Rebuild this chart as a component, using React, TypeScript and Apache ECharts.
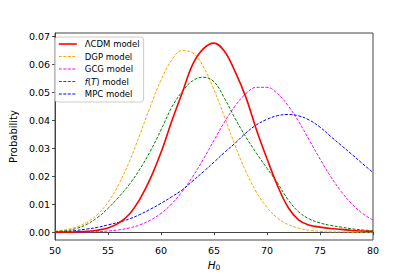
import React, { useEffect, useRef } from "react";
import * as echarts from "echarts";

const xValues = [50, 51, 52, 53, 54, 55, 56, 57, 58, 59, 60, 61, 62, 63, 64, 65, 66, 67, 68, 69, 70, 71, 72, 73, 74, 75, 76, 77, 78, 79, 80];

const lcdmValues = [0.0000, 0.0000, 0.0001, 0.0003, 0.0007, 0.0015, 0.0032, 0.0064, 0.0118, 0.0192, 0.0285, 0.0395, 0.0498, 0.0600, 0.0655, 0.0675, 0.0645, 0.0572, 0.0482, 0.0366, 0.0262, 0.0165, 0.0088, 0.0043, 0.0025, 0.0018, 0.0013, 0.0010, 0.0006, 0.0004, 0.0003];
const dgpValues = [0.0004, 0.0009, 0.0018, 0.0035, 0.0063, 0.0107, 0.0170, 0.0251, 0.0348, 0.0450, 0.0543, 0.0614, 0.0648, 0.0640, 0.0590, 0.0508, 0.0410, 0.0308, 0.0217, 0.0143, 0.0088, 0.0050, 0.0027, 0.0014, 0.0007, 0.0003, 0.0001, 0.0001, 0.0000, 0.0000, 0.0000];
const gcgValues = [0.0000, 0.0000, 0.0001, 0.0001, 0.0002, 0.0004, 0.0008, 0.0015, 0.0026, 0.0043, 0.0067, 0.0101, 0.0145, 0.0199, 0.0261, 0.0328, 0.0394, 0.0451, 0.0494, 0.0517, 0.0517, 0.0494, 0.0451, 0.0394, 0.0328, 0.0261, 0.0199, 0.0145, 0.0101, 0.0067, 0.0043];
const ftValues = [0.0002, 0.0005, 0.0013, 0.0028, 0.0052, 0.0085, 0.0125, 0.0170, 0.0225, 0.0290, 0.0365, 0.0445, 0.0502, 0.0541, 0.0553, 0.0537, 0.0477, 0.0405, 0.0340, 0.0282, 0.0228, 0.0175, 0.0115, 0.0072, 0.0047, 0.0033, 0.0024, 0.0018, 0.0012, 0.0008, 0.0005];
const mpcValues = [0.0001, 0.0002, 0.0006, 0.0011, 0.0017, 0.0026, 0.0035, 0.0047, 0.0063, 0.0082, 0.0103, 0.0126, 0.0151, 0.0183, 0.0216, 0.0250, 0.0285, 0.0318, 0.0354, 0.0383, 0.0403, 0.0416, 0.0420, 0.0415, 0.0400, 0.0375, 0.0342, 0.0310, 0.0278, 0.0245, 0.0213];

const seriesNames = ["ΛCDM model", "DGP model", "GCG model", "f(T) model", "MPC model"];
const yTickValues = [0, 0.01, 0.02, 0.03, 0.04, 0.05, 0.06, 0.07];

const FONT = "DejaVu Sans";

export default function App() {
  const ref = useRef<HTMLDivElement>(null);
  useEffect(() => {
    const chart = echarts.init(ref.current!, null, { renderer: "svg" });
    const pair = (ys: number[]) => xValues.map((x, i) => [x, ys[i]]);
    const mk = (name: string, ys: number[], color: string, width: number, dashed: boolean) => ({
      name,
      type: "line",
      data: pair(ys),
      smooth: 0.4,
      symbol: "none",
      showSymbol: false,
      lineStyle: { color, width, type: dashed ? [3, 1.5] : "solid" },
      itemStyle: { color },
      z: dashed ? 2 : 3,
    });
    const axisColor = "#444";
    chart.setOption({
      animation: false,
      textStyle: { fontFamily: FONT, color: "#000" },
      grid: { left: 51, right: 42, top: 33, bottom: 37, show: true, borderColor: axisColor, borderWidth: 1, backgroundColor: "transparent" },
      legend: {
        orient: "vertical",
        left: 55,
        top: 37,
        padding: [2, 4, 3, 3],
        itemWidth: 18,
        itemHeight: 10,
        itemGap: 2.5,
        backgroundColor: "rgba(255,255,255,0.8)",
        borderColor: "#cccccc",
        borderWidth: 1,
        borderRadius: 3,
        itemStyle: { opacity: 0 },
        lineStyle: { width: "inherit", type: "inherit", opacity: 1 },
        data: seriesNames,
        formatter: (n: string) => (n === "f(T) model" ? "{i|f}({i|T}) model" : n),
        textStyle: {
          fontFamily: FONT,
          fontSize: 8.5,
          lineHeight: 10,
          color: "#000",
          padding: [0, 0, 0, 3],
          rich: { i: { fontFamily: FONT, fontSize: 8.5, fontStyle: "italic", color: "#000" } },
        },
      },
      xAxis: {
        type: "value",
        min: 50,
        max: 80,
        interval: 5,
        name: "{i|H}{s|0}",
        nameLocation: "middle",
        nameGap: 14,
        nameTextStyle: {
          rich: {
            i: { fontFamily: FONT, fontSize: 10.5, fontStyle: "italic", color: "#000", lineHeight: 13 },
            s: { fontFamily: FONT, fontSize: 7.5, color: "#000", verticalAlign: "bottom", lineHeight: 7 },
          },
        },
        axisLine: { lineStyle: { color: axisColor, width: 1 } },
        axisTick: { show: true, inside: false, length: 3, lineStyle: { color: axisColor } },
        axisLabel: { fontFamily: FONT, fontSize: 9.5, color: "#000", margin: 5 },
        splitLine: { show: false },
      },
      yAxis: {
        type: "value",
        min: -0.0028,
        max: 0.0711,
        name: "Probability",
        nameLocation: "middle",
        nameGap: 28,
        nameTextStyle: { fontFamily: FONT, fontSize: 10, color: "#000" },
        axisLine: { show: true, lineStyle: { color: axisColor, width: 1 } },
        axisTick: { show: true, inside: false, length: 3, lineStyle: { color: axisColor }, customValues: yTickValues },
        axisLabel: {
          fontFamily: FONT,
          fontSize: 9.5,
          color: "#000",
          margin: 5,
          customValues: yTickValues,
          formatter: (v: number) => v.toFixed(2),
        },
        splitLine: { show: false },
      },
      series: [
        mk(seriesNames[0], lcdmValues, "#ff0000", 1.6, false),
        mk(seriesNames[1], dgpValues, "#ffa500", 1, true),
        mk(seriesNames[2], gcgValues, "#ff00ff", 1, true),
        mk(seriesNames[3], ftValues, "#008000", 1, true),
        mk(seriesNames[4], mpcValues, "#0000ff", 1, true),
      ],
    });
    return () => chart.dispose();
  }, []);
  return <div ref={ref} style={{ position: "absolute", left: 0, top: 0, width: 415, height: 277 }} />;
}
